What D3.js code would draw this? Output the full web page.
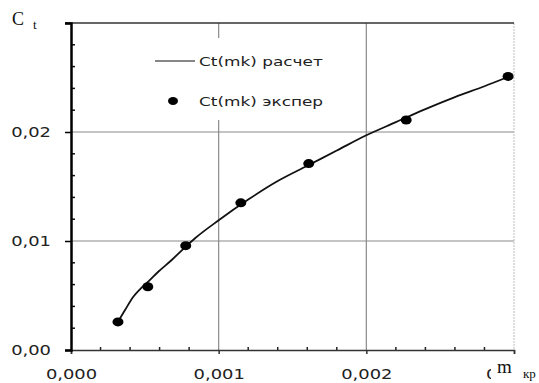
<!DOCTYPE html>
<html lang="ru">
<head>
<meta charset="utf-8">
<title>Ct(mk)</title>
<script src="https://d3js.org/d3.v7.min.js"></script>
<style>
  body { margin: 0; background: #fff; }
  .lab { font-family: "DejaVu Sans", Verdana, sans-serif; fill: #222; }
  .ser { font-family: "Liberation Serif", "Times New Roman", serif; fill: #111; }
</style>
</head>
<body>
<svg width="539" height="383"></svg>
<script>
// calculated curve Ct(mk) расчет
const calcX = [0.000318, 0.000366, 0.000422, 0.000467, 0.000523, 0.000591, 0.000682, 0.000772, 0.00084, 0.001, 0.0012, 0.0014, 0.0016, 0.0018, 0.002, 0.0022, 0.0024, 0.0026, 0.0028, 0.00295];
const calcY = [0.00258, 0.00367, 0.00489, 0.00557, 0.00627, 0.00718, 0.00826, 0.00942, 0.01025, 0.0119, 0.0138, 0.0155, 0.0169, 0.0183, 0.0197, 0.0209, 0.0221, 0.0232, 0.0242, 0.0250];
// experiment points Ct(mk) экспер
const expX = [0.000318, 0.00052, 0.000777, 0.00115, 0.00161, 0.00227, 0.00296];
const expY = [0.00258, 0.0058, 0.00957, 0.0135, 0.0171, 0.0211, 0.0251];

const xTicks = [0, 0.001, 0.002, 0.003];
const yTicks = [0, 0.01, 0.02, 0.03];
const legendNames = ["Ct(mk) расчет", "Ct(mk) экспер"];

const svg = d3.select("svg");
const mLeft = 71, mRight = 514, mTop = 23, mBottom = 350;

const x = d3.scaleLinear().domain([0, 0.003]).range([mLeft, mRight]);
const y = d3.scaleLinear().domain([0, 0.03]).range([mBottom, mTop]);

const fmtX = d => d3.format(".3f")(d).replace(".", ",");
const fmtY = d => d3.format(".2f")(d).replace(".", ",");

// clip for the last x label (mostly hidden under the axis title)
svg.append("defs").append("clipPath").attr("id", "cut")
  .append("rect").attr("x", -30).attr("y", -10).attr("width", 14).attr("height", 60);

// grid
svg.append("g").selectAll("line").data([0.001, 0.002]).join("line")
  .attr("x1", d => x(d)).attr("x2", d => x(d))
  .attr("y1", mTop).attr("y2", mBottom)
  .attr("stroke", "#8a8a8a").attr("stroke-width", 1.2);
svg.append("g").selectAll("line").data([0.01, 0.02]).join("line")
  .attr("x1", mLeft).attr("x2", mRight)
  .attr("y1", d => y(d)).attr("y2", d => y(d))
  .attr("stroke", "#8a8a8a").attr("stroke-width", 1.2);

// right border (dotted light)
svg.append("line")
  .attr("x1", mRight).attr("x2", mRight).attr("y1", mTop).attr("y2", mBottom)
  .attr("stroke", "#bbb").attr("stroke-dasharray", "2,1");
// top border
svg.append("line")
  .attr("x1", mLeft - 6).attr("x2", mRight).attr("y1", mTop).attr("y2", mTop)
  .attr("stroke", "#333").attr("stroke-width", 1.5);

// minor ticks
const minorX = d3.range(1, 15).map(i => i * 0.0002).filter(v => Math.abs(v * 1000 - Math.round(v * 1000)) > 1e-6);
const minorY = d3.range(1, 15).map(i => i * 0.002).filter(v => Math.abs(v * 100 - Math.round(v * 100)) > 1e-6);
svg.append("g").selectAll("line").data(minorX).join("line")
  .attr("x1", d => x(d)).attr("x2", d => x(d))
  .attr("y1", mBottom).attr("y2", mBottom - 3)
  .attr("stroke", "#222").attr("stroke-width", 1.5);
svg.append("g").selectAll("line").data(minorY).join("line")
  .attr("x1", mLeft).attr("x2", mLeft + 4)
  .attr("y1", d => y(d)).attr("y2", d => y(d))
  .attr("stroke", "#111").attr("stroke-width", 1.5);

// bottom axis
const gx = svg.append("g")
  .attr("transform", "translate(0," + mBottom + ")")
  .call(d3.axisBottom(x).tickValues(xTicks).tickFormat(fmtX).tickSize(4).tickPadding(15));
gx.select(".domain").attr("stroke", "#333").attr("stroke-width", 1.5);
gx.selectAll(".tick line").attr("stroke", "#333").attr("stroke-width", 1.5);
gx.selectAll("text").attr("class", "lab").attr("font-size", 14)
  .attr("transform", "scale(1.28,1)");
// only the left edge of the last label shows, as in the source
gx.selectAll(".tick").filter(d => d === 0.003).select("text")
  .attr("transform", "translate(-3,0) scale(1.28,1)")
  .attr("clip-path", "url(#cut)");

// left axis
const gy = svg.append("g")
  .attr("transform", "translate(" + mLeft + ",0)")
  .call(d3.axisLeft(y).tickValues(yTicks).tickFormat(fmtY).tickSize(6).tickPadding(0));
gy.select(".domain").attr("stroke", "#000").attr("stroke-width", 2.5);
gy.selectAll(".tick line").attr("stroke", "#000").attr("stroke-width", 1.5);
gy.selectAll("text").attr("class", "lab").attr("font-size", 14)
  .attr("x", 0).attr("transform", "translate(-20,0) scale(1.28,1)");
gy.selectAll(".tick").filter(d => d === 0.03).select("text").remove();

// curve
const line = d3.line().x(d => x(d[0])).y(d => y(d[1])).curve(d3.curveMonotoneX);
svg.append("path")
  .datum(d3.zip(calcX, calcY))
  .attr("d", line)
  .attr("fill", "none").attr("stroke", "#111").attr("stroke-width", 1.8);

// experiment dots
svg.append("g").selectAll("ellipse").data(d3.zip(expX, expY)).join("ellipse")
  .attr("cx", d => x(d[0])).attr("cy", d => y(d[1]))
  .attr("rx", 5.5).attr("ry", 4.5).attr("fill", "#000");

// legend
const lg = svg.append("g");
lg.append("rect").attr("x", 150).attr("y", 38).attr("width", 190).attr("height", 82).attr("fill", "#fff");
lg.append("line").attr("x1", 155).attr("x2", 195).attr("y1", 61).attr("y2", 61)
  .attr("stroke", "#111").attr("stroke-width", 1.2);
lg.append("ellipse").attr("cx", 173).attr("cy", 101).attr("rx", 5).attr("ry", 4).attr("fill", "#000");
lg.selectAll("text").data(legendNames).join("text")
  .attr("class", "lab").attr("font-size", 13)
  .attr("transform", (d, i) => "translate(199," + (66 + i * 40) + ") scale(1.3,1)")
  .text(d => d);

// axis titles
const tx = svg.append("text").attr("class", "ser").attr("x", 497).attr("y", 373);
tx.append("tspan").attr("font-size", 19).text("m");
tx.append("tspan").attr("font-size", 13).attr("x", 523).attr("y", 378).text("кр");

const ty = svg.append("text").attr("class", "ser").attr("x", 12).attr("y", 25);
ty.append("tspan").attr("font-size", 18).text("C");
ty.append("tspan").attr("font-size", 13).attr("x", 33).attr("y", 29).text("t");
</script>
</body>
</html>
